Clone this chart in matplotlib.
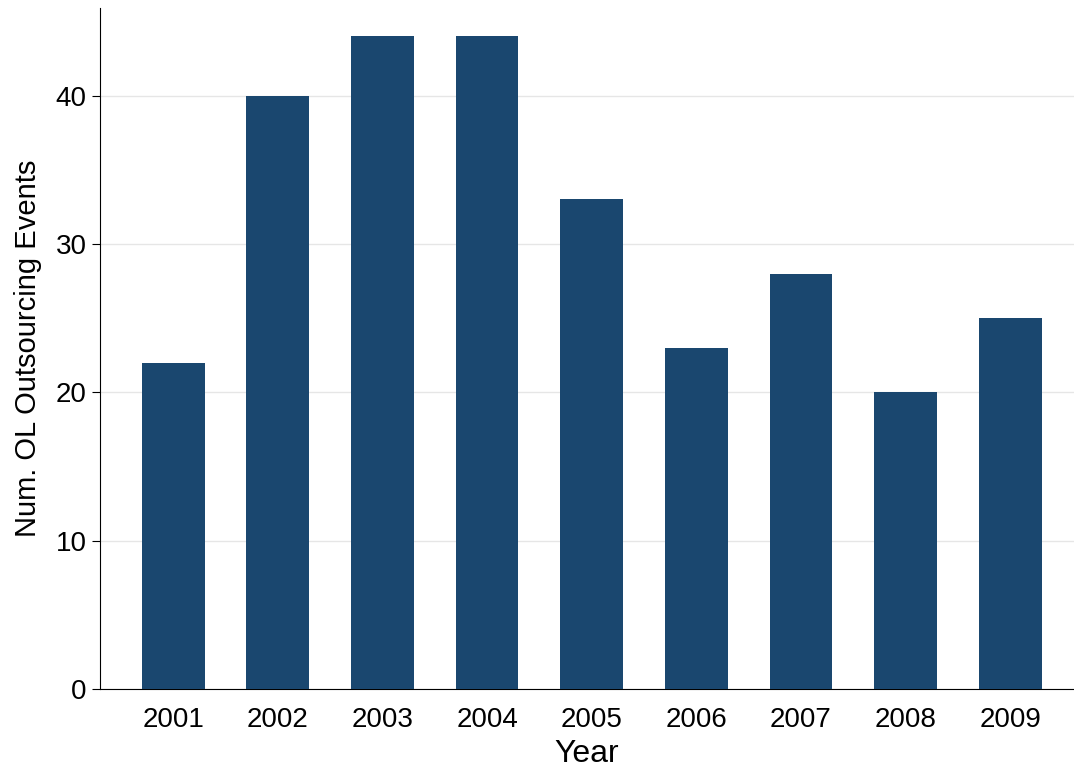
import matplotlib.pyplot as plt

years = [2001, 2002, 2003, 2004, 2005, 2006, 2007, 2008, 2009]
events = [22, 40, 44, 44, 33, 23, 28, 20, 25]

plt.rcParams['font.family'] = ['Liberation Sans', 'DejaVu Sans']

fig = plt.figure(figsize=(10.74, 7.73), dpi=100)
ax = fig.add_axes([100/1074, 1-689/773, 974/1074, 681/773])

ax.bar(years, events, width=0.6, color='#1a476f', zorder=3)
ax.set_xlim(2000.30, 2009.61)
ax.set_ylim(0, 45.9)
ax.set_yticks([0, 10, 20, 30, 40])
ax.set_xticks(years)
ax.grid(axis='y', color='#e6e6e6', linewidth=1, zorder=0)
ax.spines['top'].set_visible(False)
ax.spines['right'].set_visible(False)
ax.tick_params(labelsize=20, length=6)
ax.tick_params(axis='x', length=0, pad=13)
ax.set_xlabel('Year', fontsize=23, labelpad=4)
ax.set_ylabel('Num. OL Outsourcing Events', fontsize=21, labelpad=10)

fig.savefig('out.png')
